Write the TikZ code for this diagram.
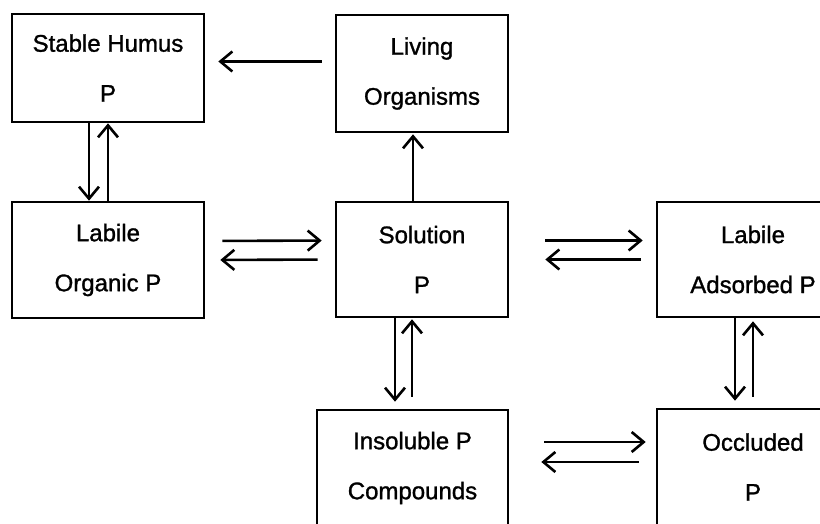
\documentclass[tikz,border=0pt]{standalone}
\usepackage{fontspec}
\setmainfont{Liberation Sans}
\newfontfamily\poolfont[FakeBold = 1.2]{Liberation Sans}
\usepackage{xcolor}
\usetikzlibrary{arrows.meta}

\begin{document}
\begin{tikzpicture}[x = 1pt, y = -1pt,
    pool/.style = {draw, line width = 2.6pt, align = center, inner sep = 0pt,
      font = \poolfont\fontsize{24}{50}\selectfont},
    flow/.style = {line width = 2.6pt, -{Straight Barb[length = 12pt, width = 20pt, line width = 2.6pt]}}]
    \useasboundingbox (0, 0) rectangle (820, 524);
    \clip (0, 0) rectangle (820, 524);
    \node[pool, minimum width = 192, minimum height = 108] (humus) at (108, 68) {Stable Humus\\P};
    \node[pool, minimum width = 172, minimum height = 117] (living) at (422, 73.5) {Living\\Organisms};
    \node[pool, minimum width = 192, minimum height = 116] (lorg) at (108, 260) {Labile\\Organic P};
    \node[pool, minimum width = 172, minimum height = 115] (sol) at (422, 259.5) {Solution\\P};
    \node[pool, minimum width = 192, minimum height = 115] (ads) at (753, 259.5) {Labile\\Adsorbed P};
    \node[pool, minimum width = 191, minimum height = 116] (insol) at (412.5, 468) {Insoluble P\\Compounds};
    \node[pool, minimum width = 192, minimum height = 116] (occl) at (753, 467) {Occluded\\P};
    \draw[flow, shorten < = 13, shorten > = 13]
      ([yshift = 12]living.west) -- ([yshift = 12]living.west -| humus.east);
    \draw[flow] ([xshift = -19]humus.south) -- ([xshift = -19]humus.south |- lorg.north);
    \draw[flow] (lorg.north) -- (humus.south);
    \draw[flow, shorten < = 17, shorten > = 13] ([yshift = 19]lorg.east) -- ([yshift = 19]sol.west);
    \draw[flow, shorten < = 17, shorten > = 15] (sol.west) -- (lorg.east);
    \draw[flow, shorten > = 1] ([xshift = -9]sol.north) -- ([xshift = -9]sol.north |- living.south);
    \draw[flow, shorten < = 36, shorten > = 13] ([yshift = 19]sol.east) -- ([yshift = 19]ads.west);
    \draw[flow, shorten < = 15, shorten > = 36] (ads.west) -- (sol.east);
    \draw[flow, shorten > = 7] ([xshift = -27]sol.south) -- ([xshift = -27]sol.south |- insol.north);
    \draw[flow, shorten < = 12, shorten > = 1] ([xshift = -10]sol.south |- insol.north) -- ([xshift = -10]sol.south);
    \draw[flow, shorten > = 7] ([xshift = -18]ads.south) -- ([xshift = -18]ads.south |- occl.north);
    \draw[flow, shorten < = 11, shorten > = 3] (occl.north) -- (ads.south);
    \draw[flow, shorten < = 35, shorten > = 10] ([yshift = 26]insol.east) -- ([yshift = 26]insol.east -| occl.west);
    \draw[flow, shorten < = 17, shorten > = 32] ([yshift = 5]occl.west) -- ([yshift = 5]occl.west -| insol.east);
  \end{tikzpicture}
\end{document}
